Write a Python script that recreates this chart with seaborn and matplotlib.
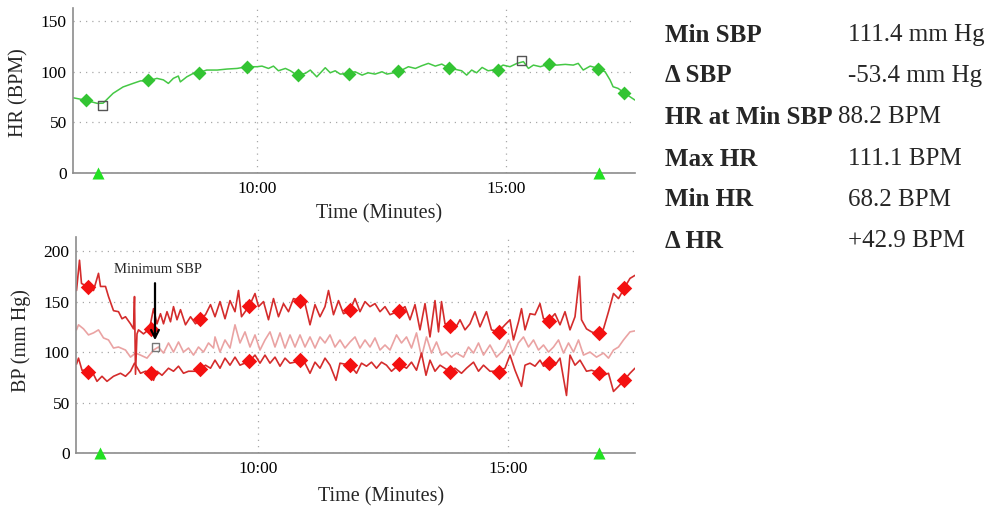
import matplotlib
matplotlib.use("Agg")
import matplotlib.pyplot as plt
import seaborn as sns
from matplotlib.ticker import FixedLocator, FuncFormatter, MultipleLocator

# ---------------- data ----------------
hr_t = [6.31, 6.55, 6.79, 6.91, 7.11, 7.31, 7.51, 7.66, 7.82, 7.99, 8.12, 8.22, 8.32, 8.42, 8.46,
        8.59, 8.72, 8.82, 8.99, 9.20, 9.40, 9.60, 9.80, 10.00, 10.10, 10.23, 10.33, 10.43, 10.57,
        10.67, 10.80, 10.97, 11.07, 11.20, 11.37, 11.47, 11.57, 11.67, 11.83, 11.97, 12.11, 12.23,
        12.37, 12.51, 12.61, 12.84, 13.04, 13.18, 13.31, 13.44, 13.58, 13.71, 13.86, 13.98, 14.11,
        14.21, 14.31, 14.41, 14.52, 14.64, 14.82, 14.94, 15.08, 15.22, 15.35, 15.45, 15.55, 15.69,
        15.85, 16.02, 16.19, 16.35, 16.45, 16.55, 16.69, 16.85, 16.99, 17.09, 17.15, 17.25, 17.37,
        17.49, 17.59]
hr_v = [74.3, 72, 68.8, 69, 78.7, 85, 88.5, 91, 91, 93.5, 92, 88.5, 93.5, 95.8, 90,
        95, 98.4, 99, 101.7, 101.7, 102.7, 103.3, 105, 105, 105.6, 103.3, 105.6, 101, 103.3,
        101, 96.7, 98.4, 101.7, 95, 104, 99, 101, 97.7, 98.4, 100, 96.7, 99,
        97.7, 100, 97.7, 100, 105, 103.3, 106, 108.3, 105.6, 107.6, 103.3, 102.4, 101,
        96.7, 101.7, 99, 104.3, 101, 102.4, 106.6, 105, 108.3, 110, 103.3, 106.6, 105,
        107.6, 106.6, 107.3, 106.6, 108.3, 101.7, 105.6, 103.3, 100, 91.8, 85.2, 83.6, 79.3,
        75.3, 72]

hr_mark_t = [6.57, 7.82, 8.84, 9.80, 10.83, 11.85, 12.84, 13.86, 14.84, 15.87, 16.85, 17.37]
hr_mark_v = [72, 92, 99, 105, 97, 98, 101, 103.6, 102, 107.6, 102.7, 79]
hr_ext_t = [6.89, 15.31]
hr_ext_v = [67, 111.5]

sbp_t = [6.37, 6.43, 6.47, 6.58, 6.71, 6.81, 6.85, 6.95, 7.01, 7.11, 7.21, 7.28, 7.35, 7.45, 7.51,
         7.53, 7.55, 7.58, 7.61, 7.71, 7.83, 7.91, 7.98, 8.05, 8.11, 8.18, 8.25, 8.31, 8.38, 8.45,
         8.55, 8.65, 8.75, 8.85, 8.95, 9.05, 9.14, 9.24, 9.34, 9.44, 9.54, 9.61, 9.67, 9.83, 9.94,
         10.01, 10.11, 10.21, 10.31, 10.41, 10.51, 10.61, 10.71, 10.83, 10.94, 11.04, 11.14, 11.24,
         11.34, 11.41, 11.51, 11.61, 11.71, 11.84, 11.94, 12.04, 12.14, 12.24, 12.34, 12.44, 12.54,
         12.64, 12.83, 12.94, 13.04, 13.14, 13.24, 13.34, 13.44, 13.54, 13.61, 13.67, 13.74, 13.83,
         13.94, 14.04, 14.14, 14.24, 14.34, 14.44, 14.57, 14.67, 14.81, 14.94, 15.04, 15.11, 15.21,
         15.27, 15.34, 15.44, 15.54, 15.64, 15.71, 15.83, 15.94, 16.04, 16.14, 16.24, 16.34, 16.43,
         16.47, 16.57, 16.67, 16.79, 16.91, 17.01, 17.11, 17.21, 17.32, 17.44, 17.54]
sbp_v = [161, 191, 168, 165, 161, 178, 165, 165, 155, 141, 140, 133, 135, 128, 123,
         155, 78, 118, 122, 118, 123, 143, 128, 138, 128, 140, 130, 145, 132, 142,
         127, 135, 128, 133, 137, 147, 135, 150, 133, 151, 140, 161, 135, 146, 158,
         145, 150, 132, 153, 135, 148, 140, 153, 151, 148, 127, 147, 135,
         145, 161, 137, 151, 138, 141, 153, 140, 150, 145, 148, 140, 145,
         137, 141, 145, 132, 147, 122, 148, 115, 151, 120, 150, 128, 127,
         123, 132, 122, 128, 140, 125, 140, 122, 120, 127, 132, 112, 130,
         143, 122, 138, 137, 148, 133, 132, 138, 127, 140, 122, 135, 175,
         132, 123, 120, 118, 123, 140, 158, 153, 163, 173, 176]

map_t = [6.37, 6.41, 6.51, 6.61, 6.71, 6.81, 6.91, 7.01, 7.11, 7.21, 7.35, 7.45, 7.55, 7.65, 7.78,
         7.91, 8.01, 8.11, 8.21, 8.31, 8.41, 8.51, 8.61, 8.71, 8.81, 8.91, 9.01, 9.11, 9.14, 9.24,
         9.34, 9.44, 9.54, 9.64, 9.74, 9.84, 9.94, 10.04, 10.14, 10.24, 10.34, 10.44, 10.54, 10.64,
         10.74, 10.84, 10.94, 11.04, 11.14, 11.24, 11.34, 11.44, 11.54, 11.64, 11.74, 11.84, 11.94,
         12.04, 12.14, 12.24, 12.34, 12.44, 12.54, 12.64, 12.77, 12.87, 12.97, 13.07, 13.17, 13.27,
         13.37, 13.47, 13.57, 13.67, 13.77, 13.87, 13.97, 14.11, 14.21, 14.31, 14.41, 14.51, 14.64,
         14.77, 14.91, 15.01, 15.11, 15.21, 15.31, 15.41, 15.51, 15.61, 15.71, 15.81, 15.91, 16.01,
         16.11, 16.21, 16.31, 16.41, 16.51, 16.64, 16.77, 16.91, 17.01, 17.11, 17.21, 17.31, 17.44,
         17.54]
map_v = [122, 127, 123, 117, 119, 122, 114, 112, 104, 105, 102, 95, 99, 97, 94,
         102, 105, 99, 109, 100, 110, 100, 104, 97, 105, 100, 109, 104, 115, 100,
         112, 104, 127, 109, 120, 105, 117, 102, 112, 120, 105, 119, 104, 117,
         105, 117, 105, 115, 104, 115, 109, 117, 105, 112, 104, 110, 115,
         104, 112, 105, 114, 102, 107, 102, 117, 109, 115, 104, 119, 95,
         115, 99, 110, 97, 100, 95, 99, 95, 105, 99, 109, 97, 107,
         95, 102, 112, 97, 109, 115, 105, 112, 102, 107, 100, 105, 112,
         99, 109, 100, 112, 97, 100, 95, 99, 94, 102, 105, 112, 120,
         121]

dbp_t = [6.37, 6.41, 6.48, 6.58, 6.68, 6.78, 6.88, 6.98, 7.11, 7.25, 7.35, 7.45, 7.53, 7.65, 7.75,
         7.83, 7.91, 7.98, 8.08, 8.21, 8.31, 8.41, 8.51, 8.61, 8.75, 8.85, 8.95, 9.05, 9.14, 9.24,
         9.34, 9.44, 9.54, 9.64, 9.83, 9.94, 10.04, 10.14, 10.24, 10.34, 10.44, 10.54, 10.64, 10.83,
         10.94, 11.04, 11.14, 11.24, 11.34, 11.44, 11.56, 11.64, 11.84, 11.97, 12.07, 12.17, 12.27,
         12.37, 12.47, 12.57, 12.67, 12.83, 12.97, 13.07, 13.17, 13.27, 13.36, 13.44, 13.54, 13.64,
         13.83, 13.94, 14.07, 14.17, 14.31, 14.41, 14.51, 14.64, 14.81, 14.94, 15.04, 15.14, 15.27,
         15.34, 15.44, 15.54, 15.64, 15.71, 15.83, 15.94, 16.04, 16.17, 16.24, 16.34, 16.44, 16.57,
         16.67, 16.79, 16.91, 17.01, 17.11, 17.21, 17.32, 17.44, 17.54]
dbp_v = [88, 94, 82, 82, 81, 71, 76, 71, 76, 79, 76, 81, 89, 79, 81,
         80, 72, 81, 77, 84, 81, 86, 79, 81, 81, 83, 87, 84, 92, 84,
         94, 87, 95, 87, 91, 97, 89, 97, 89, 95, 86, 94, 89, 91,
         89, 79, 90, 84, 94, 87, 72, 89, 87, 79, 89, 86, 90,
         84, 90, 87, 81, 88, 84, 90, 82, 99, 77, 92, 81, 87,
         81, 84, 79, 84, 90, 81, 87, 81, 81, 84, 97, 82, 66,
         87, 89, 86, 92, 86, 89, 87, 94, 57, 97, 87, 92, 81,
         82, 80, 77, 79, 61, 66, 72, 79, 84]

sbp_mark_t = [6.59, 7.85, 8.84, 9.81, 10.84, 11.84, 12.82, 13.84, 14.82, 15.81, 16.81, 17.32]
sbp_mark_v = [164.7, 122.8, 132.4, 145.5, 150.8, 141.6, 140.6, 126, 120, 131, 118.5, 163]
dbp_mark_v = [80.5, 79.5, 82.9, 91.4, 92, 87, 88, 80.5, 80.5, 89.4, 79.5, 72.3]
min_sbp_t = [7.95]
min_sbp_v = [105]

hr_event_t = [6.81, 16.87]
bp_event_t = [6.85, 16.82]
event_v = [0, 0]

stat_labels = ["Min SBP", "Δ SBP", "HR at Min SBP", "Max HR", "Min HR", "Δ HR"]
stat_values = ["111.4 mm Hg", "-53.4 mm Hg", "88.2 BPM", "111.1 BPM", "68.2 BPM", "+42.9 BPM"]


def n2(a, b):
    n = min(len(a), len(b))
    return list(a[:n]), list(b[:n])


# ---------------- style ----------------
sns.set_style("white")
plt.rcParams['font.family'] = ['Liberation Serif', 'DejaVu Serif']

W, H = 991, 508
fig = plt.figure(figsize=(W / 100, H / 100), dpi=100)
ax1 = fig.add_axes([73 / W, 1 - 173 / H, 562 / W, 165 / H])
ax2 = fig.add_axes([76 / W, 1 - 453 / H, 559 / W, 216 / H])

GRAY = '#8c8c8c'


def fmt(m, pos=None):
    mins = int(m)
    secs = int(round((m - mins) * 60))
    return f"{mins}:{secs:02d}"


def style(ax, xlim, ymax):
    ax.set_xlim(*xlim)
    ax.set_ylim(0, ymax)
    for s in ['top', 'right']:
        ax.spines[s].set_visible(False)
    for s in ['left', 'bottom']:
        ax.spines[s].set_color(GRAY)
        ax.spines[s].set_linewidth(1.2)
    ax.xaxis.set_major_locator(FixedLocator([10, 15]))
    ax.xaxis.set_major_formatter(FuncFormatter(fmt))
    ax.yaxis.set_major_locator(MultipleLocator(50))
    ax.yaxis.set_minor_locator(MultipleLocator(25))
    ax.tick_params(axis='both', which='both', direction='out', color=GRAY,
                   labelsize=12.5, labelcolor='black')
    ax.tick_params(which='major', length=3, width=1)
    ax.tick_params(which='minor', length=3, width=1)
    ax.tick_params(axis='y', which='major', pad=1.5)
    ax.tick_params(axis='x', which='major', pad=3)
    ax.grid(True, which='major', linestyle=(0, (1, 4)), color='#a8a8a8', lw=0.9)
    ax.set_axisbelow(True)


# ---------------- HR panel ----------------
x, y = n2(hr_t, hr_v)
sns.lineplot(x=x, y=y, ax=ax1, color='#45c845', lw=1.1, sort=False, estimator=None)
sns.scatterplot(x=hr_mark_t, y=hr_mark_v, ax=ax1, marker='D', s=50, color='#33c433',
                linewidth=0, zorder=4)
sns.scatterplot(x=hr_ext_t, y=hr_ext_v, ax=ax1, marker='s', s=40, facecolor='none',
                edgecolor='#555555', linewidth=1, zorder=5)
sns.scatterplot(x=hr_event_t, y=event_v, ax=ax1, marker='^', s=75, color='#22e022',
                linewidth=0, zorder=6, clip_on=False)
style(ax1, (6.305, 17.59), 163)
ax1.set_ylabel("HR (BPM)", fontsize=14.5, va='center')
ax1.yaxis.set_label_coords(-0.096, 0.49)
ax1.set_xlabel("Time (Minutes)", fontsize=14.5, va='center')
ax1.xaxis.set_label_coords(0.544, -0.25)

# ---------------- BP panel ----------------
for tt, vv, col in [(map_t, map_v, '#eaa3a3'), (sbp_t, sbp_v, '#d42c2c'), (dbp_t, dbp_v, '#d42c2c')]:
    x, y = n2(tt, vv)
    sns.lineplot(x=x, y=y, ax=ax2, color=col, lw=1.2, sort=False, estimator=None)
sns.scatterplot(x=sbp_mark_t, y=sbp_mark_v, ax=ax2, marker='D', s=62, color='#f41010',
                linewidth=0, zorder=4)
sns.scatterplot(x=sbp_mark_t, y=dbp_mark_v, ax=ax2, marker='D', s=62, color='#f41010',
                linewidth=0, zorder=4)
sns.scatterplot(x=min_sbp_t, y=min_sbp_v, ax=ax2, marker='s', s=30, facecolor='none',
                edgecolor='#777777', linewidth=1, zorder=5)
sns.scatterplot(x=bp_event_t, y=event_v, ax=ax2, marker='^', s=75, color='#22e022',
                linewidth=0, zorder=6, clip_on=False)
style(ax2, (6.36, 17.54), 214)
ax2.set_ylabel("BP (mm Hg)", fontsize=14.5, va='center')
ax2.yaxis.set_label_coords(-0.099, 0.52)
ax2.set_xlabel("Time (Minutes)", fontsize=14.5, va='center')
ax2.xaxis.set_label_coords(0.546, -0.205)

ax2.annotate("", xy=(7.94, 109), xytext=(7.94, 171),
             arrowprops=dict(arrowstyle="->", lw=1.6, color='black',
                             mutation_scale=14), zorder=7)
ax2.text(8.0, 182, "Minimum SBP", fontsize=10.5, ha='center', va='center', zorder=7)

# ---------------- stats table ----------------
row_y = [35, 76, 117, 159, 200, 241]
for i, (lab, val) in enumerate(zip(stat_labels, stat_values)):
    yy = 1 - row_y[i] / H
    fig.text(665 / W, yy, lab, fontsize=18, fontweight='bold', va='center', ha='left')
    vx = 838 if lab == "HR at Min SBP" else 848
    fig.text(vx / W, yy, val, fontsize=18, va='center', ha='left')

fig.savefig("out.png", dpi=100)
